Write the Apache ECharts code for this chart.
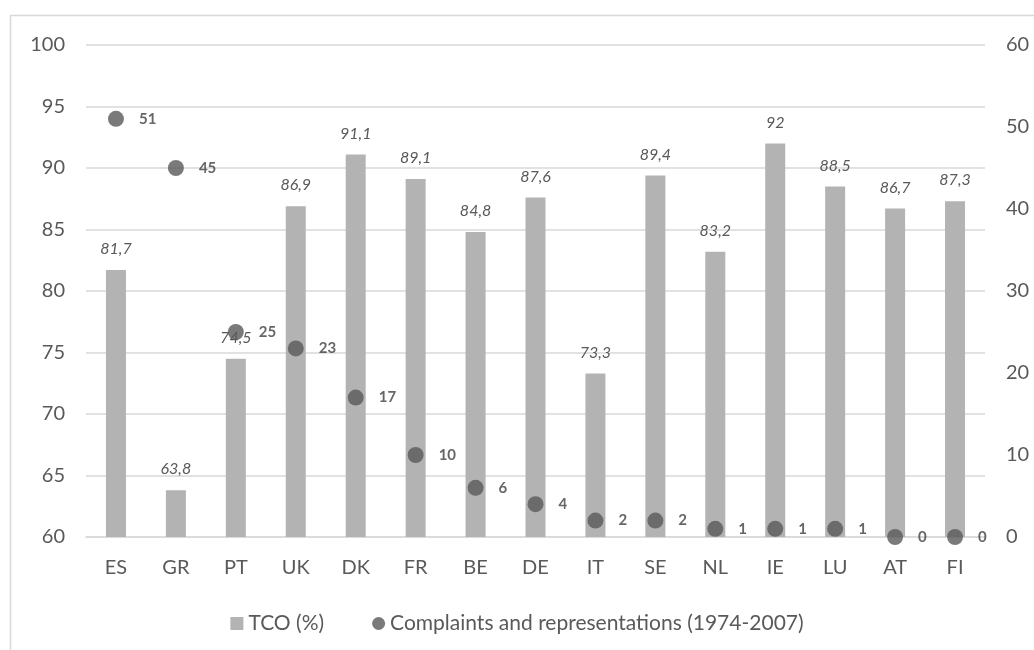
<!DOCTYPE html>
<html><head><meta charset="utf-8">
<script src="https://cdn.jsdelivr.net/npm/echarts@6/dist/echarts.min.js"></script>
<style>html,body{margin:0;padding:0;background:#fff}#c{width:1034px;height:650px}</style>
</head><body><div id="c"></div>
<script>
const categories = ['ES','GR','PT','UK','DK','FR','BE','DE','IT','SE','NL','IE','LU','AT','FI'];
const tco = [81.7,63.8,74.5,86.9,91.1,89.1,84.8,87.6,73.3,89.4,83.2,92,88.5,86.7,87.3];
const complaints = [51,45,25,23,17,10,6,4,2,2,1,1,1,0,0];
const leftTicks = {min:60,max:100,interval:5};
const rightTicks = {min:0,max:60,interval:10};

const FONT = 'Lato, "Open Sans", sans-serif';
const chart = echarts.init(document.getElementById('c'));
chart.setOption({
  animation:false,
  textStyle:{fontFamily:FONT},
  graphic:[{type:'rect',shape:{x:10.5,y:15.5,width:1200,height:800},style:{fill:'none',stroke:'#d9d9d9',lineWidth:1.5},silent:true,z:-1}],
  grid:{left:86,right:49,top:45,bottom:113},
  legend:{
    top:608,left:'center',itemGap:48,itemWidth:13,itemHeight:13,
    textStyle:{color:'#595959',fontSize:21,fontFamily:FONT},
    data:[{name:'TCO (%)',icon:'rect'},{name:'Complaints and representations (1974-2007)',icon:'circle'}]
  },
  xAxis:{type:'category',data:categories,
    axisTick:{show:false},
    axisLine:{lineStyle:{color:'#d9d9d9',width:1.5}},
    axisLabel:{color:'#595959',fontSize:20,margin:21,fontFamily:FONT}
  },
  yAxis:[
    {type:'value',min:leftTicks.min,max:leftTicks.max,interval:leftTicks.interval,
     axisLine:{show:false},axisTick:{show:false},
     axisLabel:{color:'#595959',fontSize:20,margin:21,fontFamily:FONT},
     splitLine:{lineStyle:{color:'#d9d9d9',width:1.5}}},
    {type:'value',min:rightTicks.min,max:rightTicks.max,interval:rightTicks.interval,position:'right',
     axisLine:{show:false},axisTick:{show:false},
     axisLabel:{color:'#595959',fontSize:20,margin:21,fontFamily:FONT},
     splitLine:{show:false}}
  ],
  series:[
    {name:'TCO (%)',type:'bar',data:tco,yAxisIndex:0,barWidth:20,
     itemStyle:{color:'#b3b3b3'},
     label:{show:true,position:'top',distance:13,color:'#595959',fontSize:16,fontStyle:'italic',fontFamily:FONT,
       formatter:p=>String(p.value).replace('.',',')}},
    {name:'Complaints and representations (1974-2007)',type:'scatter',data:complaints,yAxisIndex:1,symbolSize:16,
     itemStyle:{color:'#595959'},
     label:{show:true,position:'right',distance:15,color:'#404040',fontSize:15,fontWeight:'bold',fontFamily:FONT},
     z:3}
  ]
});
</script></body></html>
